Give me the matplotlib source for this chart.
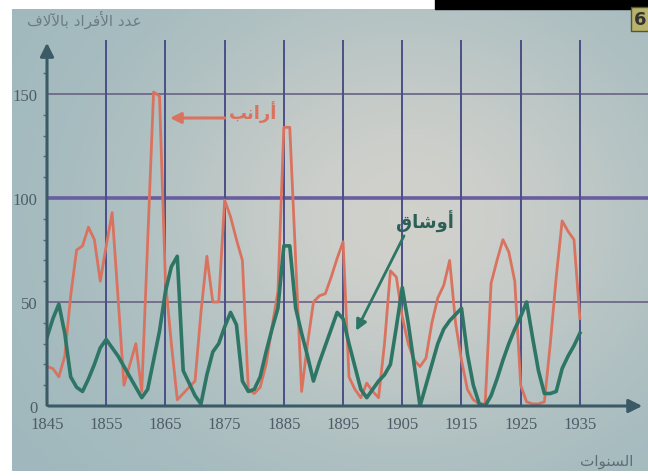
import numpy as np
import matplotlib
matplotlib.use('Agg')
import matplotlib.pyplot as plt
from matplotlib.patches import Rectangle

# years 1845..1935, values in thousands
years = list(range(1845, 1936))

hare = [19, 18, 14, 24, 53, 75, 77, 86, 80, 60,
        77, 93, 52, 10, 20, 30, 7, 79, 151, 149,
        60, 30, 3, 6, 9, 12, 45, 72, 50, 50,
        99, 91, 80, 70, 8, 6, 9, 20, 38, 55,
        134, 134, 70, 7, 30, 50, 53, 54, 62, 71,
        79, 14, 8, 4, 11, 7, 4, 30, 65, 62,
        43, 30, 22, 19, 23, 40, 52, 58, 70, 40,
        22, 8, 3, 1, 1, 59, 70, 80, 74, 60,
        10, 2, 1, 1, 2, 30, 62, 89, 84, 80,
        42]

lynx = [33, 42, 49, 35, 14, 9, 7, 13, 20, 28,
        32, 28, 24, 19, 14, 9, 4, 8, 22, 36,
        55, 67, 72, 17, 11, 5, 1, 15, 26, 30,
        38, 45, 39, 12, 7, 8, 14, 26, 37, 47,
        77, 77, 47, 35, 24, 12, 21, 29, 37, 45,
        42, 30, 19, 8, 4, 8, 12, 15, 20, 38,
        57, 40, 20, 0, 10, 20, 30, 37, 41, 44,
        47, 25, 10, 1, 0, 5, 13, 22, 30, 37,
        43, 50, 33, 17, 6, 6, 7, 18, 24, 29,
        35]

x_ticks = list(range(1845, 1936, 10))
v_grid = list(range(1855, 1936, 10))
y_ticks = [0, 50, 100, 150]

# arabic labels, pre-shaped (presentation forms, visual order)
hare_label = "\uFE90\uFEE7\uFE8D\uFEAD\uFE83"        # أرانب
lynx_label = "\uFED5\uFE8E\uFEB7\uFEED\uFE83"        # أوشاق
y_title = ("\uFED1\uFEFB\uFEF5\uFE8E\uFE91 \uFEA9\uFE8D\uFEAE\uFED3\uFEF7\uFE8D "
           "\uFEA9\uFEAA\uFECB")                     # عدد الأفراد بالآلاف
x_title = "\uFE95\uFE8D\uFEEE\uFEE8\uFEB4\uFEDF\uFE8D"  # السنوات

red = '#d9735f'
green = '#2d7565'

fig = plt.figure(figsize=(6.48, 4.77), dpi=100)
fig.patch.set_facecolor('white')

# photo-like background
bg = fig.add_axes([12/648, 5/477, 636/648, 462/477])
bg.axis('off')
gx = np.linspace(0, 1, 200)
gy = np.linspace(0, 1, 150)
X, Y = np.meshgrid(gx, gy)
light = np.exp(-((X - 0.62)**2 / 0.18 + (Y - 0.45)**2 / 0.25))
c_dark = np.array([0.62, 0.72, 0.74])
c_light = np.array([0.82, 0.82, 0.80])
img = c_dark + (c_light - c_dark) * light[..., None]
bg.imshow(img, aspect='auto', extent=(0, 1, 0, 1))
fig.add_artist(Rectangle((435/648, 467/477), 213/648, 10/477,
                         transform=fig.transFigure, color='black'))

ax = fig.add_axes([47/648, 70/477, 601/648, 366/477])
ax.patch.set_alpha(0)
ax.set_xlim(1845, 1946.5)
ax.set_ylim(0, 176)
for s in ax.spines.values():
    s.set_visible(False)

ax.axhline(50, color='#6e6a88', lw=1.3, zorder=1)
ax.axhline(150, color='#6e6a88', lw=1.3, zorder=1)
ax.axhline(100, color='#6a5ca0', lw=2.6, zorder=1)
ax.vlines(v_grid, 0, 176, color='#4a4f88', lw=1.4, zorder=1)

ax.plot(years, hare, color=red, lw=2.0, zorder=3)
ax.plot(years, lynx, color=green, lw=2.6, zorder=4)

# axes with arrows
ax.annotate('', xy=(1946, 0), xytext=(1844.8, 0), annotation_clip=False,
            arrowprops=dict(arrowstyle='-|>', color='#3b5a66', lw=2.2,
                            mutation_scale=20), zorder=5)
ax.annotate('', xy=(1845, 176), xytext=(1845, -1), annotation_clip=False,
            arrowprops=dict(arrowstyle='-|>', color='#3b5a66', lw=2.2,
                            mutation_scale=20), zorder=5)

ax.set_xticks(x_ticks)
ax.set_xticklabels([str(t) for t in x_ticks])
ax.set_yticks(y_ticks)
ax.set_yticklabels([str(t) for t in y_ticks])
ax.set_yticks(range(10, 176, 10), minor=True)
ax.tick_params(axis='both', length=0, colors='#4d5c66', labelsize=12, pad=7)
ax.tick_params(axis='y', which='minor', length=3, width=1, color='#5a6a74')
ax.tick_params(axis='x', which='minor', length=0)
for lab in ax.get_xticklabels() + ax.get_yticklabels():
    lab.set_family('Liberation Serif')
    lab.set_color('#4d5c66')

# series labels
ax.annotate('', xy=(1865.3, 138.5), xytext=(1875.5, 138.5),
            arrowprops=dict(arrowstyle='-|>', color=red, lw=2.2,
                            mutation_scale=16), zorder=5)
ax.text(1879.8, 142, hare_label, color=red, fontsize=13, fontweight='bold',
        ha='center', va='center', family='DejaVu Sans')
ax.annotate('', xy=(1897, 35), xytext=(1905.5, 83),
            arrowprops=dict(arrowstyle='-|>', color=green, lw=2.0,
                            mutation_scale=16), zorder=5)
ax.text(1908.8, 89, lynx_label, color='#2c5f57', fontsize=13, fontweight='bold',
        ha='center', va='center', family='DejaVu Sans')

fig.text(84/648, 1 - 20/477, y_title, color='#6d7c84', fontsize=11,
         ha='center', va='center', family='DejaVu Sans')
fig.text(607/648, 15/477, x_title, color='#5e6e74', fontsize=11,
         ha='center', va='center', family='DejaVu Sans')
fig.text(640/648, 1 - 20/477, '6', color='#333333', fontsize=13,
         fontweight='bold', ha='center', va='center',
         bbox=dict(boxstyle='square,pad=0.15', fc='#b9b36a', ec='#555533'))

fig.savefig('out.png', dpi=100)
